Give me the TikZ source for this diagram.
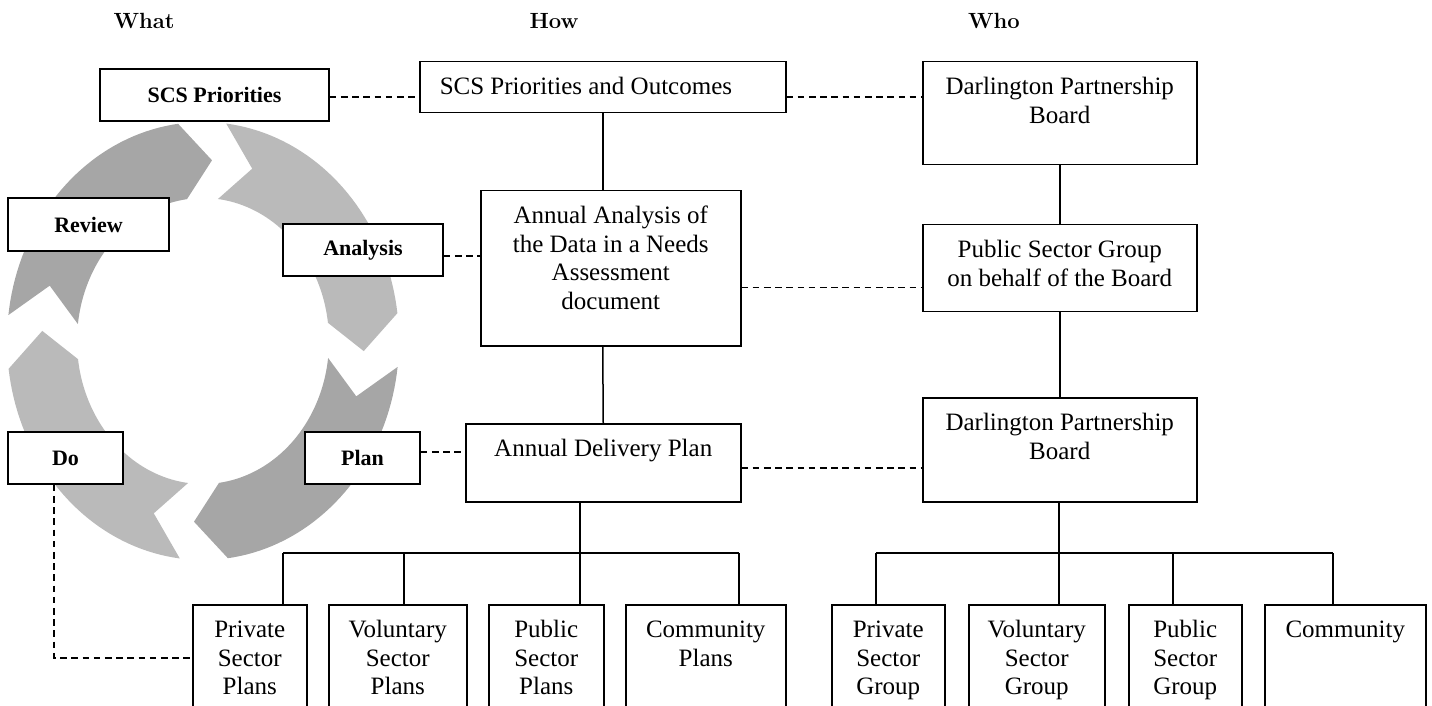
\documentclass[tikz,border=0pt]{standalone}
\usepackage{fontspec}
\newfontfamily\bodyfont{Liberation Serif}
\definecolor{cycledark}{RGB}{166,166,166}
\definecolor{cyclelight}{RGB}{186,186,186}
\newcommand{\boxtext}[3]{\parbox[c][#2][t]{#1}{\centering\rule{0pt}{16.5pt}#3}}
\begin{document}
\begin{tikzpicture}[x=0.5pt,y=-0.5pt]
        \tikzstyle{head}=[font=\bfseries\fontsize{11}{13}\selectfont, anchor=base];
        \tikzstyle{stage}=[draw, fill=white, line width=0.75pt, inner sep=0pt, font=\bodyfont\bfseries\fontsize{11}{13}\selectfont];
        \tikzstyle{plan box}=[draw, fill=white, line width=0.75pt, inner sep=0pt, anchor=north west, font=\bodyfont\fontsize{12.5}{14.3}\selectfont];
        \tikzstyle{link}=[line width=0.75pt];
        \tikzstyle{dashlink}=[line width=0.75pt, dash pattern=on 3.3pt off 2.3pt];
        \useasboundingbox (0,0) rectangle (1432,706);
        \clip (0,0) rectangle (1432,706);
        % cycle of four arrows
        \foreach \g/\c in {175/cycledark, 85/cyclelight, -5/cycledark, -95/cyclelight} {
            \pgfmathsetmacro{\tailA}{\g-1.8}
            \pgfmathsetmacro{\notchA}{\g-12.8}
            \pgfmathsetmacro{\baseA}{\g-90+12.3}
            \pgfmathsetmacro{\tipA}{\g-90+1.8}
            \fill[\c] plot[domain=\tailA:\baseA, samples=40] ({203+196*cos(\x)},{341-219*sin(\x)})
                -- ({203+161*cos(\tipA)},{341-181*sin(\tipA)})
                -- plot[domain=\baseA:\tailA, samples=40] ({203+126*cos(\x)},{341-143*sin(\x)})
                -- ({203+161*cos(\notchA)},{341-181*sin(\notchA)}) -- cycle;
        }
        % headings
        \node[head] (what) at (144,29) {What};
        \node[head] (how) at (554,29) {How};
        \node[head] (who) at (994,29) {Who};
        % what
        \node[stage, minimum width=114.5pt, minimum height=26pt] (scs) at (214.5,95) {SCS Priorities};
        \node[stage, minimum width=80.5pt, minimum height=26.5pt] (review) at (88.5,224.5) {Review};
        \node[stage, minimum width=80pt, minimum height=26pt] (analysis) at (363,250) {Analysis};
        \node[stage, minimum width=57.5pt, minimum height=26pt] (do) at (65.5,458) {Do};
        \node[stage, minimum width=57.5pt, minimum height=26pt] (plan) at (362.5,458) {Plan};
        % how
        \node[plan box] (outcomes) at (419,61) {\parbox[c][25.5pt][t]{183pt}{\rule{0pt}{16.5pt}\hspace*{10pt}SCS Priorities and Outcomes}};
        \node[plan box] (needs) at (480,190) {\boxtext{130pt}{77.5pt}{Annual Analysis of\\the Data in a Needs\\Assessment\\document}};
        \node[plan box] (delivery) at (465,423) {\boxtext{137.5pt}{39pt}{Annual Delivery Plan}};
        \node[plan box] (p1) at (192,604) {\boxtext{57pt}{53pt}{Private\\Sector\\Plans}};
        \node[plan box] (p2) at (328,604) {\boxtext{69pt}{53pt}{Voluntary\\Sector\\Plans}};
        \node[plan box] (p3) at (488,604) {\boxtext{57.5pt}{53pt}{Public\\Sector\\Plans}};
        \node[plan box] (p4) at (625,604) {\boxtext{80pt}{53pt}{Community\\Plans}};
        % who
        \node[plan box] (board1) at (922,61) {\boxtext{137pt}{51.5pt}{Darlington Partnership\\Board}};
        \node[plan box] (psg) at (922,224) {\boxtext{137pt}{43.5pt}{Public Sector Group\\on behalf of the Board}};
        \node[plan box] (board2) at (922,397) {\boxtext{137pt}{52pt}{Darlington Partnership\\Board}};
        \node[plan box] (g1) at (831,604) {\boxtext{56.5pt}{53pt}{Private\\Sector\\Group}};
        \node[plan box] (g2) at (968,604) {\boxtext{68pt}{53pt}{Voluntary\\Sector\\Group}};
        \node[plan box] (g3) at (1128,604) {\boxtext{56.5pt}{53pt}{Public\\Sector\\Group}};
        \node[plan box] (g4) at (1264,604) {\boxtext{80.5pt}{53pt}{Community}};
        % solid links
        \draw[link] (outcomes.south) -- (outcomes.south |- needs.north);
        \draw[link] (outcomes.south |- needs.south) -- (delivery.north);
        \draw[link] (board1.south) -- (psg.north);
        \draw[link] (psg.south) -- (board2.north);
        \foreach \n/\bx in {p1/283, p2/404, p3/580, p4/739, g1/876, g2/1059, g3/1173, g4/1333} {
            \coordinate (bus\n) at (\bx,553);
            \draw[link] (bus\n) -- (bus\n |- \n.north);
        }
        \draw[link] (busp1) -- (busp4);
        \draw[link] (delivery.south -| busp3) -- (busp3);
        \draw[link] (busg1) -- (busg4);
        \draw[link] (board2.south -| busg2) -- (busg2);
        % dashed links
        \draw[dashlink] ([yshift=-1pt]scs.east) -- ([yshift=-1pt]scs.east -| outcomes.west);
        \draw[dashlink] ([yshift=-1pt]outcomes.east |- scs.east) -- ([yshift=-1pt]scs.east -| board1.west);
        \draw[dashlink] ([yshift=-3pt]analysis.east) -- ([yshift=-3pt]analysis.east -| needs.west);
        \draw[dashlink] ([yshift=-9.75pt]needs.east) -- ([yshift=-9.75pt]needs.east -| psg.west);
        \draw[dashlink] ([yshift=3pt]plan.east) -- ([yshift=3pt]plan.east -| delivery.west);
        \draw[dashlink] ([yshift=-2.5pt]delivery.east) -- ([yshift=-2.5pt]delivery.east -| board2.west);
        \draw[dashlink] ([xshift=-5.75pt]do.south) |- (p1.west);
    \end{tikzpicture}
\end{document}
